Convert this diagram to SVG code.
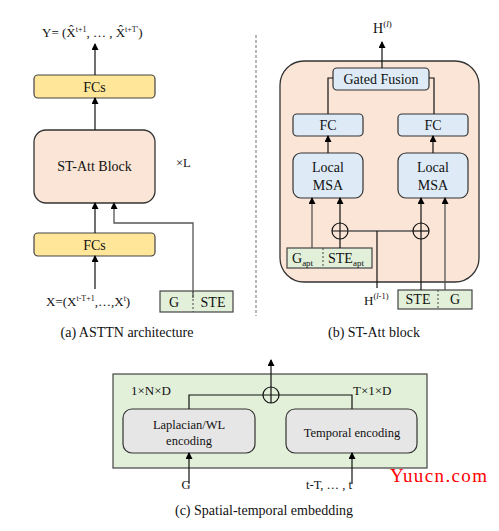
<svg xmlns="http://www.w3.org/2000/svg" width="499" height="531" viewBox="0 0 499 531" font-family="Liberation Serif">
<defs>
<marker id="ah" markerUnits="userSpaceOnUse" markerWidth="7" markerHeight="8" refX="6" refY="3.5" orient="auto">
<path d="M0,0 L7,3.5 L0,7 z" fill="#000"/>
</marker>
</defs>
<style>
text{fill:#111;}
.t14{font-size:14px;}
.t13{font-size:13px;}
.t12{font-size:12.5px;}
.mid{text-anchor:middle;}
.yel{fill:#FFE699;stroke:#444;stroke-width:1.2;}
.pink{fill:#FBE5D6;stroke:#333;stroke-width:1.3;}
.blue{fill:#DEEBF7;stroke:#333;stroke-width:1.2;}
.green{fill:#E2F0D9;stroke:#444;stroke-width:1.2;}
.grey{fill:#E7E6E6;stroke:#333;stroke-width:1.2;}
.ln{fill:none;stroke:#111;stroke-width:1.2;}
.lg{fill:none;stroke:#555;stroke-width:1.3;}
.arr{fill:none;stroke:#111;stroke-width:1.2;marker-end:url(#ah);}
.arg{fill:none;stroke:#555;stroke-width:1.3;marker-end:url(#ah);}
.dash{stroke:#444;stroke-width:1;stroke-dasharray:2,2;fill:none;}
.plus{fill:none;stroke:#111;stroke-width:1.2;}
.wm{font-size:19px;fill:#ff0000;}
</style>

<!-- Panel (a) -->
<g id="a-output"><text class="t13" x="42" y="37">Y= (X̂<tspan font-size="8" dy="-5">t+1</tspan><tspan dy="5">, … , X̂</tspan><tspan font-size="8" dy="-5">t+T'</tspan><tspan dy="5">)</tspan></text></g>
<g id="a-fcs-top"><rect class="yel" x="34" y="75" width="121" height="23" rx="4"/><text class="t14 mid" x="94.5" y="91.5">FCs</text></g>
<g id="a-statt"><rect class="pink" x="34" y="130" width="121" height="73" rx="12"/><text class="t14 mid" x="94.5" y="171">ST-Att Block</text></g>
<g id="a-xl"><text class="t12" x="176" y="167">×L</text></g>
<g id="a-fcs-bot"><rect class="yel" x="34" y="233" width="121" height="23" rx="4"/><text class="t14 mid" x="94.5" y="249.5">FCs</text></g>
<g id="a-input"><text class="t13" x="46" y="306">X=(X<tspan font-size="8" dy="-5">t-T+1</tspan><tspan dy="5">,…,X</tspan><tspan font-size="8" dy="-5">t</tspan><tspan dy="5">)</tspan></text></g>
<g id="a-gste"><rect class="green" x="160" y="291" width="73" height="21"/><line class="dash" x1="193" y1="291" x2="193" y2="312"/><text class="t14 mid" x="174" y="306.5">G</text><text class="t14 mid" x="213" y="306.5">STE</text></g>
<g id="a-caption"><text class="t14 mid" x="127" y="337">(a) ASTTN architecture</text></g>

<line x1="256" y1="35" x2="256" y2="316" stroke="#888" stroke-width="1.2" stroke-dasharray="3,2"/>

<!-- Panel (b) -->
<g id="b-out"><text class="t14" x="373" y="33">H<tspan font-size="9" dy="-6">(<tspan font-style="italic">l</tspan>)</tspan></text></g>
<g id="b-block"><rect class="pink" x="280" y="61" width="199" height="221" rx="24"/></g>
<g id="b-gated"><rect class="blue" x="333" y="68" width="96" height="22" rx="4"/><text class="t14 mid" x="381" y="84">Gated Fusion</text></g>
<g id="b-fc1"><rect class="blue" x="293" y="114" width="70" height="22" rx="4"/><text class="t14 mid" x="328" y="130">FC</text></g>
<g id="b-fc2"><rect class="blue" x="398" y="114" width="70" height="22" rx="4"/><text class="t14 mid" x="433" y="130">FC</text></g>
<g id="b-msa1"><rect class="blue" x="293" y="153" width="70" height="45" rx="8"/><text class="t14 mid" x="328" y="172">Local</text><text class="t14 mid" x="328" y="190">MSA</text></g>
<g id="b-msa2"><rect class="blue" x="398" y="153" width="70" height="45" rx="8"/><text class="t14 mid" x="433" y="172">Local</text><text class="t14 mid" x="433" y="190">MSA</text></g>
<g id="b-gapt"><rect class="green" x="287" y="248" width="85" height="20"/><line class="dash" x1="323" y1="248" x2="323" y2="268"/><text class="t14" x="292" y="263">G<tspan font-size="9" dy="3">apt</tspan></text><text class="t14" x="328" y="263">STE<tspan font-size="9" dy="3">apt</tspan></text></g>
<g id="b-steg"><rect class="green" x="398" y="290" width="74" height="19"/><line class="dash" x1="438" y1="290" x2="438" y2="309"/><text class="t14 mid" x="418" y="304">STE</text><text class="t14 mid" x="455" y="304">G</text></g>
<g id="b-hin"><text class="t13" x="364" y="305">H<tspan font-size="8.5" dy="-6">(<tspan font-style="italic">l</tspan>-1)</tspan></text></g>
<g id="b-caption"><text class="t14 mid" x="374" y="337">(b) ST-Att block</text></g>

<!-- Panel (c) -->
<g id="c-box"><rect class="green" x="113" y="374" width="314" height="94" stroke="#666" stroke-width="1.6"/></g>
<g id="c-dims"><text class="t13" x="131" y="395">1×N×D</text><text class="t13" x="353" y="395">T×1×D</text></g>
<g id="c-lap"><rect class="grey" x="123" y="409" width="132" height="44" rx="9"/><text class="t12 mid" x="189" y="429">Laplacian/WL</text><text class="t12 mid" x="189" y="445">encoding</text></g>
<g id="c-temp"><rect class="grey" x="286" y="409" width="131" height="44" rx="9"/><text class="t12 mid" x="352" y="437">Temporal encoding</text></g>
<g id="c-inputs"><text class="t12 mid" x="186" y="489">G</text><text class="t12 mid" x="329" y="489">t-T, … , t</text></g>
<g id="c-caption"><text class="t14 mid" x="264" y="515">(c) Spatial-temporal embedding</text></g>

<!-- Connectors -->
<g id="connectors">
<line class="arr" x1="95" y1="75" x2="95" y2="44"/>
<line class="arr" x1="95" y1="130" x2="95" y2="98"/>
<line class="arr" x1="95" y1="233" x2="95" y2="203"/>
<path class="arg" d="M193,298 V223 H114 V203"/>
<line class="arr" x1="95" y1="289" x2="95" y2="256"/>

<line class="arr" x1="382" y1="68" x2="382" y2="42"/>
<path class="ln" d="M333,78 H328 V114"/>
<path class="ln" d="M429,78 H434 V114"/>
<line class="arr" x1="328" y1="153" x2="328" y2="136"/>
<line class="arr" x1="433" y1="153" x2="433" y2="136"/>
<line class="arg" x1="312" y1="248" x2="312" y2="198"/>
<line class="arr" x1="340" y1="223" x2="340" y2="198"/>
<line class="ln" x1="340" y1="248" x2="340" y2="239"/>
<circle class="plus" cx="340" cy="231" r="8"/>
<path class="ln" d="M332,231 H348 M340,223 V239"/>
<line class="lg" x1="348" y1="231" x2="413" y2="231"/>
<line class="ln" x1="377" y1="231" x2="377" y2="288"/>
<circle class="plus" cx="421" cy="231" r="8"/>
<path class="ln" d="M413,231 H429"/>
<line class="arr" x1="421" y1="290" x2="421" y2="198"/>
<line class="arg" x1="445" y1="290" x2="445" y2="198"/>

<line class="arr" x1="271" y1="387" x2="271" y2="360"/>
<circle class="plus" cx="271" cy="395" r="8"/>
<path class="ln" d="M263,395 H279 M271,387 V403"/>
<path class="ln" d="M263,395 H189 V409"/>
<path class="ln" d="M279,395 H352 V409"/>
<line class="arr" x1="189" y1="484" x2="189" y2="453"/>
<line class="arr" x1="352" y1="484" x2="352" y2="453"/>
</g>

<g id="watermark"><text class="wm" x="390" y="482" textLength="97" lengthAdjust="spacing">Yuucn.com</text></g>
</svg>
